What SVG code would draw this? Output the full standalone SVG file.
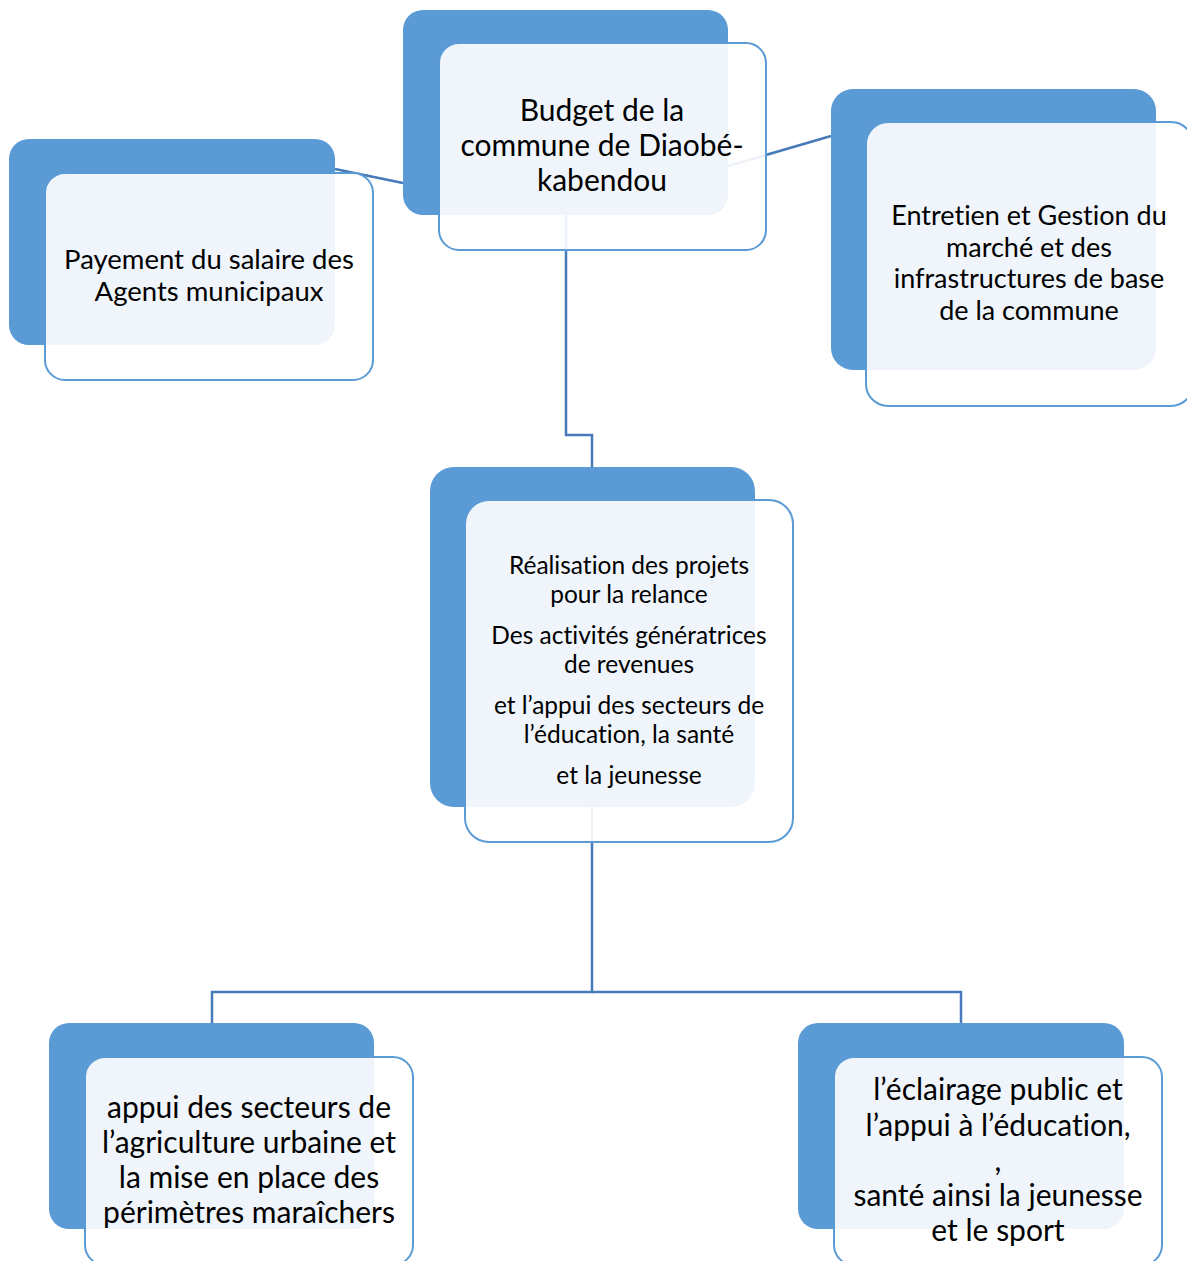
<svg xmlns="http://www.w3.org/2000/svg" width="1187" height="1261" viewBox="0 0 1187 1261">
<style>
.back{fill:#5B9BD5}
.front{fill:#FFFFFF;fill-opacity:0.9;stroke:#5B9BD5;stroke-width:2}
.conn{fill:none;stroke:#477AB8;stroke-width:2.5}
.t{font-family:Lato,"Open Sans","Liberation Sans",sans-serif;fill:#000;text-anchor:middle;font-variant-ligatures:none}
</style>
<rect width="1187" height="1261" fill="#FFFFFF"/>
<g id="connectors">
<line class="conn" x1="403" y1="183" x2="335" y2="169"/>
<line class="conn" x1="728" y1="166" x2="831" y2="136"/>
<polyline class="conn" points="566,215 566,435 592,435 592,467"/>
<polyline class="conn" points="592,807 592,992 212,992 212,1023"/>
<polyline class="conn" points="592,992 961,992 961,1023"/>
</g>
<g id="n-budget">
<rect class="back" x="403" y="10" width="325" height="205" rx="20"/>
<rect class="front" x="439" y="43" width="327" height="207" rx="20"/>
<text class="t" x="602" font-size="30"><tspan x="602" y="121">Budget de la</tspan><tspan x="602" y="156">commune de Diaobé-</tspan><tspan x="602" y="191">kabendou</tspan></text>
</g>
<g id="n-salaire">
<rect class="back" x="9" y="139" width="326" height="206" rx="20"/>
<rect class="front" x="45" y="173" width="328" height="207" rx="20"/>
<text class="t" x="209" font-size="27.5"><tspan x="209" y="269">Payement du salaire des</tspan><tspan x="209" y="301">Agents municipaux</tspan></text>
</g>
<g id="n-entretien">
<rect class="back" x="831" y="89" width="325" height="281" rx="22"/>
<rect class="front" x="866" y="122" width="327" height="284" rx="22"/>
<text class="t" x="1029" font-size="27"><tspan x="1029" y="225">Entretien et Gestion du</tspan><tspan x="1029" y="257">marché et des</tspan><tspan x="1029" y="288">infrastructures de base</tspan><tspan x="1029" y="320">de la commune</tspan></text>
</g>
<g id="n-realisation">
<rect class="back" x="430" y="467" width="325" height="340" rx="24"/>
<rect class="front" x="465" y="500" width="328" height="342" rx="24"/>
<text class="t" x="629" font-size="24.5"><tspan x="629" y="574">Réalisation des projets</tspan><tspan x="629" y="603">pour la relance</tspan><tspan x="629" y="644">Des activités génératrices</tspan><tspan x="629" y="673">de revenues</tspan><tspan x="629" y="714">et l’appui des secteurs de</tspan><tspan x="629" y="743">l’éducation, la santé</tspan><tspan x="629" y="784">et la jeunesse</tspan></text>
</g>
<g id="n-agriculture">
<rect class="back" x="49" y="1023" width="325" height="206" rx="20"/>
<rect class="front" x="85" y="1057" width="328" height="208" rx="20"/>
<text class="t" x="249" font-size="30"><tspan x="249" y="1118">appui des secteurs de</tspan><tspan x="249" y="1153">l’agriculture urbaine et</tspan><tspan x="249" y="1188">la mise en place des</tspan><tspan x="249" y="1223">périmètres maraîchers</tspan></text>
</g>
<g id="n-eclairage">
<rect class="back" x="798" y="1023" width="326" height="206" rx="20"/>
<rect class="front" x="834" y="1057" width="328" height="208" rx="20"/>
<text class="t" x="998" font-size="30"><tspan x="998" y="1100">l’éclairage public et</tspan><tspan x="998" y="1136">l’appui à l’éducation,</tspan><tspan x="998" y="1171">,</tspan><tspan x="998" y="1206">santé ainsi la jeunesse</tspan><tspan x="998" y="1241">et le sport</tspan></text>
</g>
</svg>
